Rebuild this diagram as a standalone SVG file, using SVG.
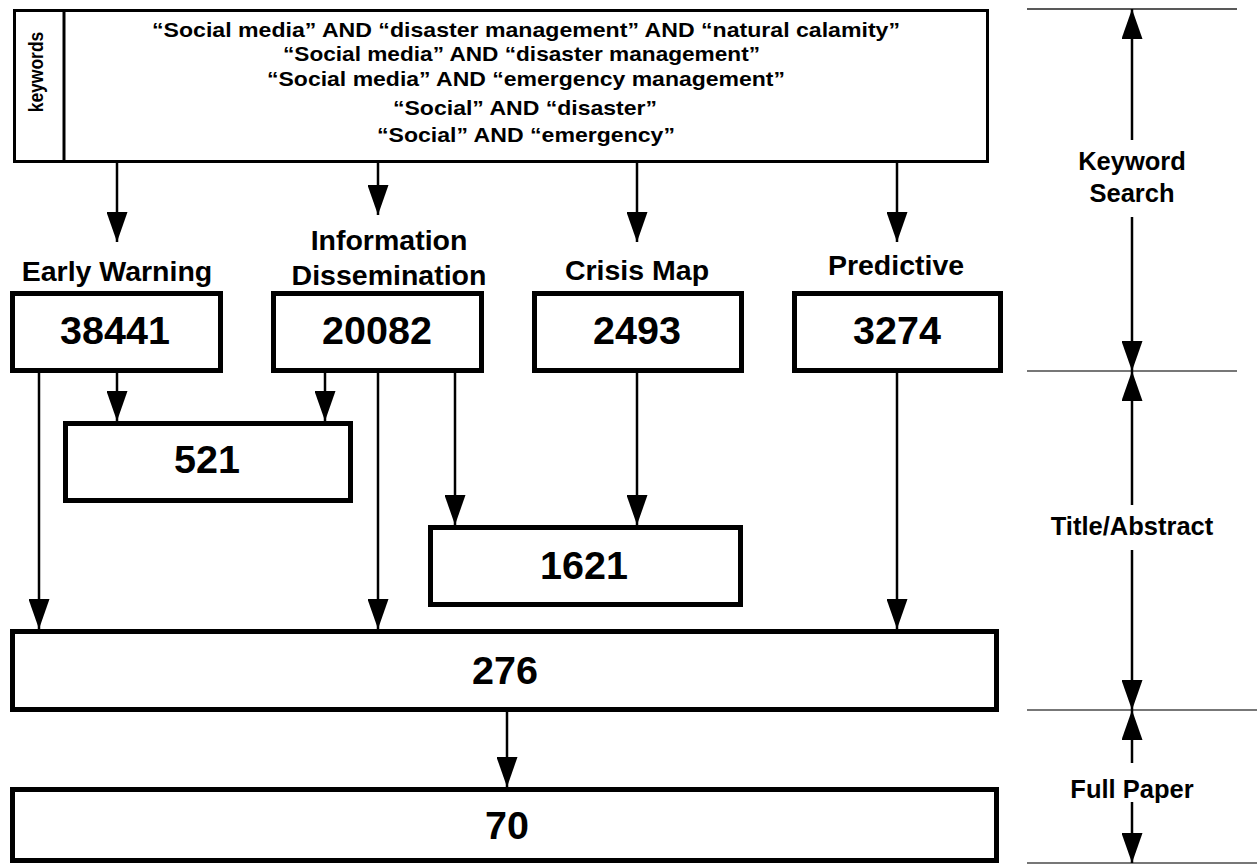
<svg xmlns="http://www.w3.org/2000/svg" width="1257" height="865" viewBox="0 0 1257 865">
<style>
text{font-family:"Liberation Sans",Arial,sans-serif;font-weight:bold;fill:#000}
.kw{font-size:21px}
.lab{font-size:28.5px;text-anchor:middle}
.num{font-size:39.5px;text-anchor:middle}
.side{font-size:25.5px;text-anchor:middle}
.box{fill:#fff;stroke:#000;stroke-width:5}
.conn{stroke:#000;stroke-width:2.5;fill:none;marker-end:url(#ah)}
.scale{stroke:#000;stroke-width:2.5;fill:none;marker-end:url(#ah)}
.rule{stroke:#777;stroke-width:2;fill:none}
</style>
<defs>
<marker id="ah" markerUnits="userSpaceOnUse" markerWidth="30" markerHeight="21" refX="30" refY="10.5" orient="auto">
<path d="M0,0 L30,10.5 L0,21 z" fill="#000"/>
</marker>
</defs>
<rect width="1257" height="865" fill="#fff"/>

<g id="keywords">
<rect x="14.5" y="10.5" width="973" height="151" fill="#fff" stroke="#000" stroke-width="3"/>
<line x1="64" y1="10.5" x2="64" y2="161.5" stroke="#000" stroke-width="3"/>
<text transform="translate(43,72) scale(1.15,1) rotate(-90)" style="font-size:17.5px;text-anchor:middle">keywords</text>
<text class="kw" x="152" y="37" textLength="748" lengthAdjust="spacingAndGlyphs">“Social media” AND “disaster management” AND “natural calamity”</text>
<text class="kw" x="283" y="61" textLength="477" lengthAdjust="spacingAndGlyphs">“Social media” AND “disaster management”</text>
<text class="kw" x="267" y="86" textLength="518" lengthAdjust="spacingAndGlyphs">“Social media” AND “emergency management”</text>
<text class="kw" x="393" y="115" textLength="264" lengthAdjust="spacingAndGlyphs">“Social” AND “disaster”</text>
<text class="kw" x="377" y="142" textLength="298" lengthAdjust="spacingAndGlyphs">“Social” AND “emergency”</text>
</g>

<g id="early-warning">
<text class="lab" x="117" y="281">Early Warning</text>
<rect class="box" x="12.5" y="293.5" width="208" height="77"/>
<text class="num" x="115" y="344">38441</text>
</g>

<g id="information-dissemination">
<text class="lab" x="389" y="250">Information</text>
<text class="lab" x="389" y="285">Dissemination</text>
<rect class="box" x="273.5" y="293.5" width="208" height="77"/>
<text class="num" x="377" y="344">20082</text>
</g>

<g id="crisis-map">
<text class="lab" x="637" y="280">Crisis Map</text>
<rect class="box" x="534.5" y="293.5" width="207" height="77"/>
<text class="num" x="637" y="344">2493</text>
</g>

<g id="predictive">
<text class="lab" x="896" y="275">Predictive</text>
<rect class="box" x="794.5" y="293.5" width="206" height="77"/>
<text class="num" x="897" y="344">3274</text>
</g>

<g id="n521">
<rect class="box" x="65.5" y="423.5" width="285" height="77"/>
<text class="num" x="207" y="473">521</text>
</g>

<g id="n1621">
<rect class="box" x="430.5" y="527.5" width="310" height="77"/>
<text class="num" x="584" y="579">1621</text>
</g>

<g id="n276">
<rect class="box" x="12.5" y="631.5" width="984" height="78"/>
<text class="num" x="505" y="684">276</text>
</g>

<g id="n70">
<rect class="box" x="12.5" y="789.5" width="984" height="71"/>
<text class="num" x="507" y="839">70</text>
</g>

<g id="connectors">
<path class="conn" d="M117,162 V242"/>
<path class="conn" d="M378,162 V215"/>
<path class="conn" d="M637,162 V242"/>
<path class="conn" d="M897,162 V242"/>
<path class="conn" d="M117,373 V421"/>
<path class="conn" d="M325,373 V421"/>
<path class="conn" d="M39,373 V629"/>
<path class="conn" d="M378,373 V629"/>
<path class="conn" d="M455,373 V525"/>
<path class="conn" d="M637,373 V525"/>
<path class="conn" d="M897,373 V629"/>
<path class="conn" d="M507,712 V787"/>
</g>

<g id="stage-scale">
<line x1="1027" y1="9" x2="1237" y2="9" stroke="#222" stroke-width="1.5"/>
<line class="rule" x1="1027" y1="371" x2="1237" y2="371"/>
<line class="rule" x1="1027" y1="710" x2="1257" y2="710"/>
<line class="rule" x1="1027" y1="863" x2="1257" y2="863"/>
<path class="scale" d="M1132,140 V9"/>
<path class="scale" d="M1132,217 V371"/>
<path class="scale" d="M1132,505 V371"/>
<path class="scale" d="M1132,550 V710"/>
<path class="scale" d="M1132,763 V710"/>
<path class="scale" d="M1132,802 V863"/>
<text class="side" x="1132" y="170">Keyword</text>
<text class="side" x="1132" y="202">Search</text>
<text class="side" x="1132" y="535">Title/Abstract</text>
<text class="side" x="1132" y="798">Full Paper</text>
</g>
</svg>
